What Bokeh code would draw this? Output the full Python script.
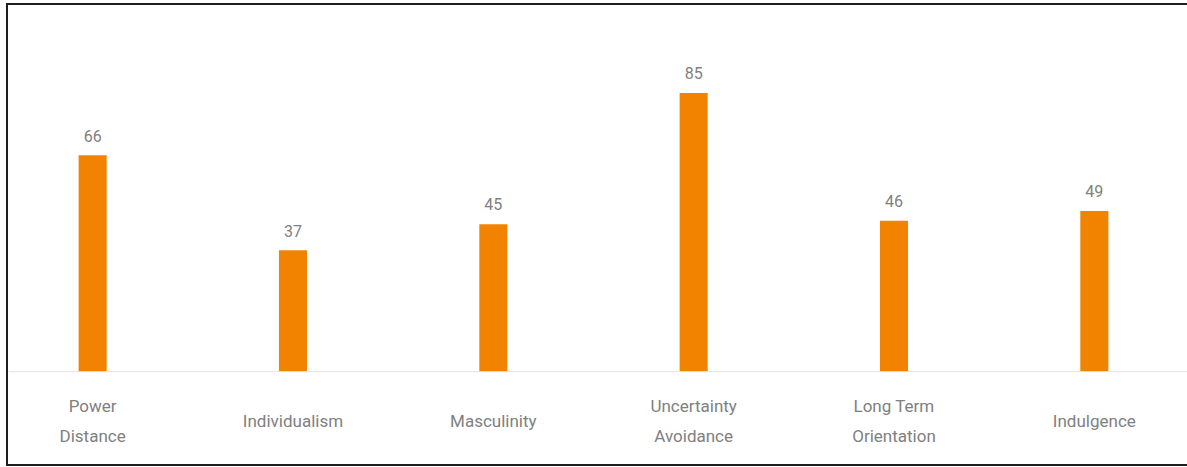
from bokeh.plotting import figure
from bokeh.models import Range1d, Span
from bokeh.core.properties import value
from bokeh.embed import file_html
from bokeh.resources import INLINE

categories = ["Power\nDistance", "Individualism", "Masculinity",
              "Uncertainty\nAvoidance", "Long Term\nOrientation", "Indulgence"]
scores = [66, 37, 45, 85, 46, 49]

xs = list(range(len(categories)))
PX_PER_UNIT = 3.25
W, H = 1179, 459
BASE = 363  # baseline position in px from top of canvas
y_start = -(H - BASE) / PX_PER_UNIT
y_end = BASE / PX_PER_UNIT

p = figure(width=W + 2, height=H + 4, output_backend="svg", toolbar_location=None,
           x_range=Range1d(-0.42, -0.42 + W / 200.0),
           y_range=Range1d(y_start, y_end),
           min_border=0,
           styles={"margin-left": "6px", "margin-top": "3px",
                   "border-left": "2px solid #1e1e1e",
                   "border-top": "2px solid #1e1e1e",
                   "border-bottom": "2px solid #1e1e1e"})
p.axis.visible = False
p.grid.visible = False
p.outline_line_color = None
p.background_fill_color = "white"
p.border_fill_color = "white"

p.add_layout(Span(location=0, dimension="width", line_color="#e3e3e3", line_width=1))

p.vbar(x=xs, top=scores, bottom=0, width=0.14, fill_color="#F28300", line_color=None)

p.text(x=xs, y=[s + 6.0 for s in scores], text=[str(s) for s in scores],
       text_align="center", text_baseline="middle", text_color="#808080",
       text_font=value("Roboto"), text_font_size="16px")

p.text(x=xs, y=[-49 / PX_PER_UNIT] * len(xs), text=categories,
       text_align="center", text_baseline="middle", text_color="#808080",
       text_font=value("Roboto"), text_font_size="17px", text_line_height=1.5)

open("out.html", "w").write(file_html(p, INLINE))
